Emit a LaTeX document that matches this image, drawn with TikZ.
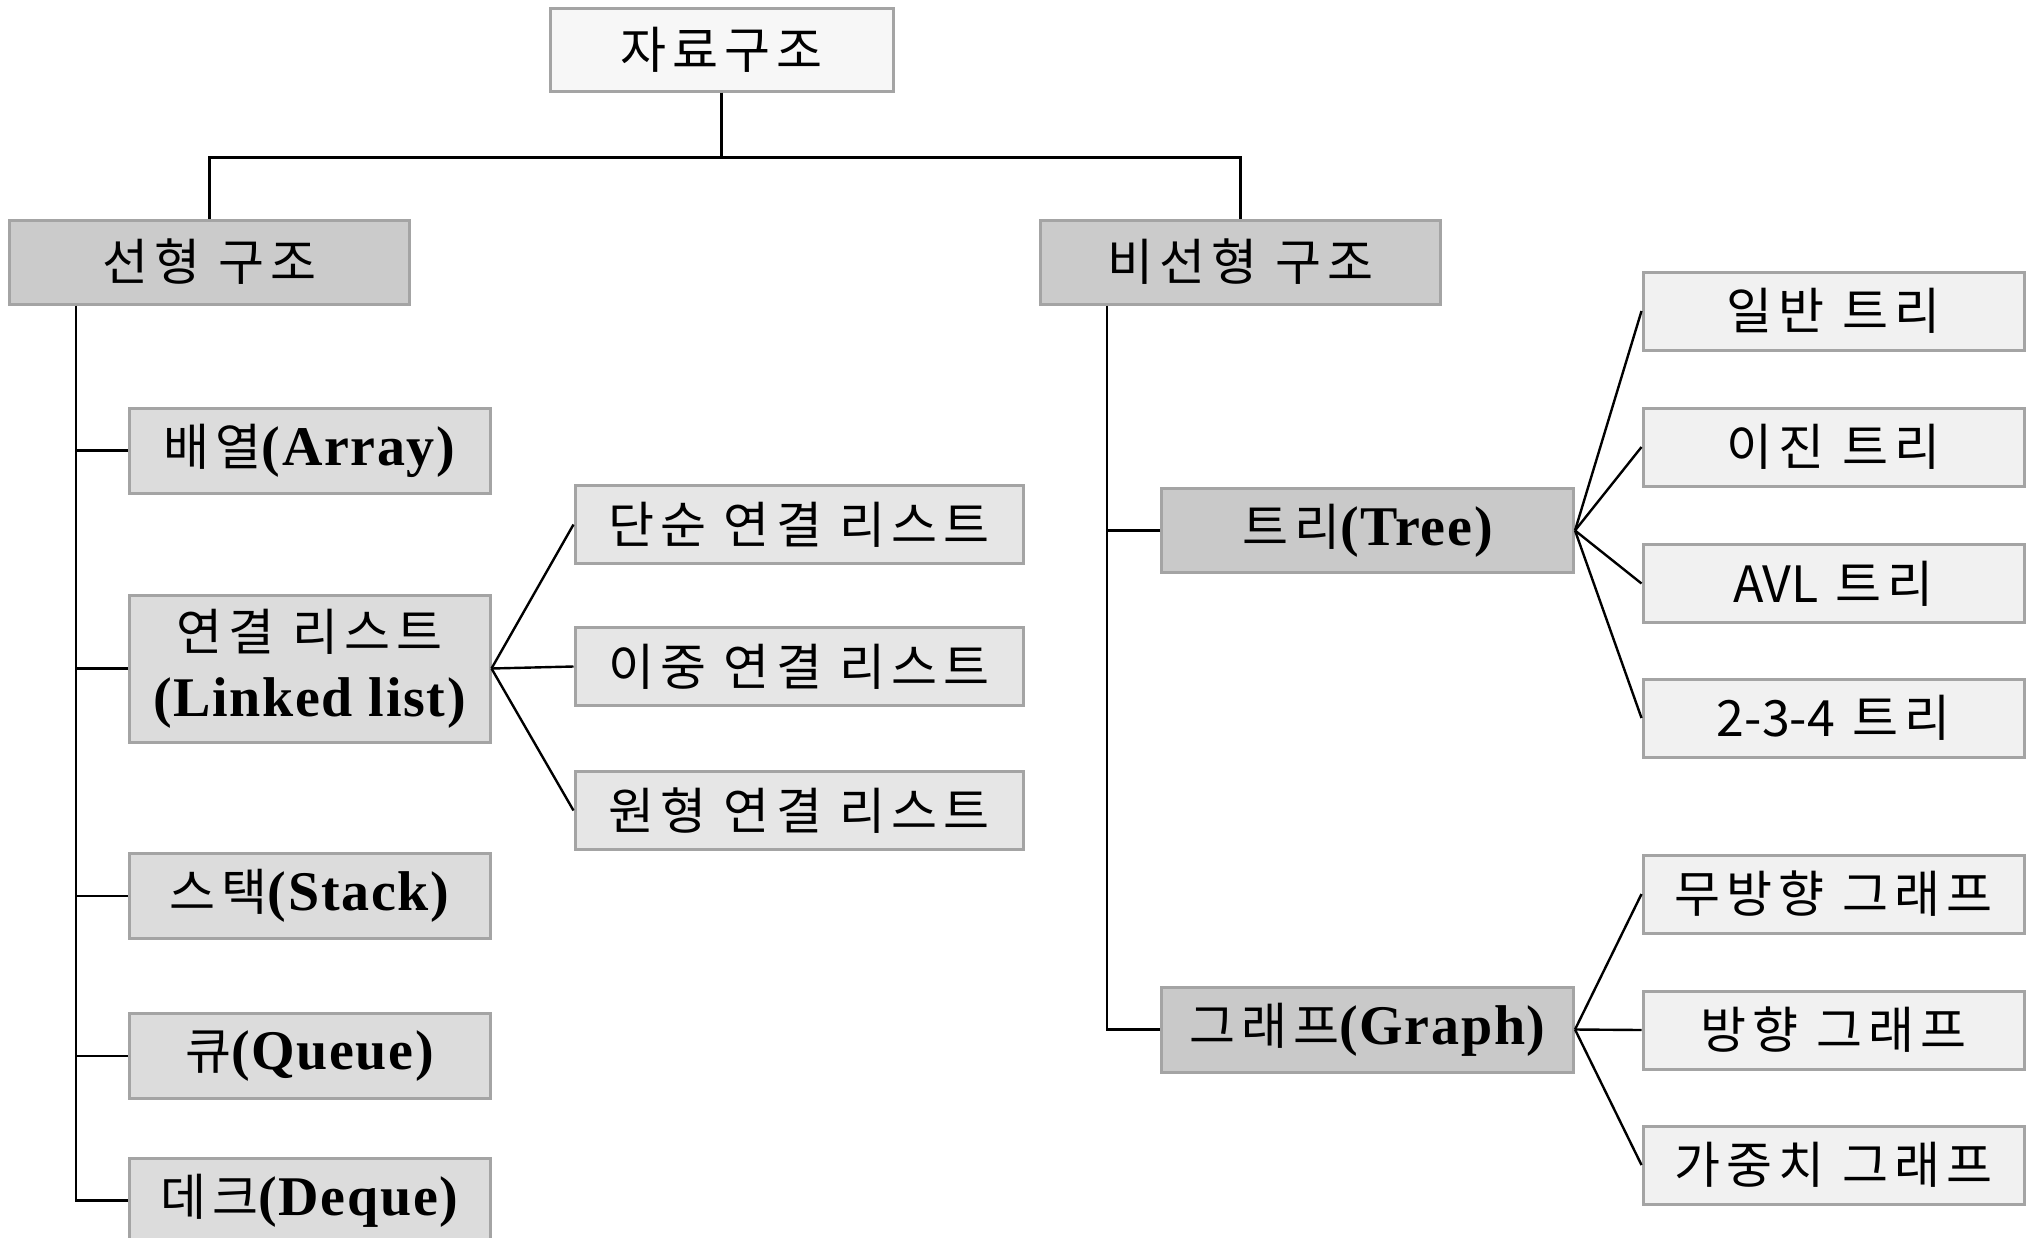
\documentclass[tikz,border=0pt]{standalone}
\usepackage{fontspec}
\setmainfont{Noto Sans CJK KR}[LetterSpace=12]
\newfontfamily\en{Liberation Serif}[LetterSpace=3]
\newfontfamily\lat{Noto Sans CJK KR}
\newcommand\E[1]{{\en\bfseries\fontsize{56}{64}\selectfont #1}}
\newcommand\La[1]{{\lat #1}}
\definecolor{bord}{HTML}{A4A4A4}
\definecolor{froot}{HTML}{F7F7F7}
\definecolor{fone}{HTML}{CBCBCB}
\definecolor{fleaf}{HTML}{DCDCDC}
\definecolor{fmid}{HTML}{C9C9C9}
\definecolor{fll}{HTML}{E6E6E6}
\definecolor{frs}{HTML}{F1F1F1}
\tikzset{
  box/.style={draw=bord, line width=3pt, rectangle, inner sep=0pt, align=center,
    font=\fontsize{50}{68}\selectfont},
  rootbox/.style={box, fill=froot, minimum width=343pt, minimum height=83pt},
  onebox/.style={box, fill=fone, minimum width=400pt, minimum height=84pt},
  leafbox/.style={box, fill=fleaf, minimum width=361pt, minimum height=85pt},
  midbox/.style={box, fill=fmid, minimum width=412pt, minimum height=84pt},
  llbox/.style={box, fill=fll, minimum width=448pt, minimum height=78pt},
  rsbox/.style={box, fill=frs, minimum width=381pt, minimum height=78pt},
  conn/.style={draw=black, line width=2.4pt}
}
\begin{document}
\begin{tikzpicture}[x=1pt, y=-1pt]
\useasboundingbox[fill=white] (0,0) rectangle (2028,1237);
% nodes
\node[rootbox] (root) at (721.5,49.5) {자료구조};
\node[onebox] (lin) at (209.5,262) {선형 구조};
\node[onebox] (nonlin) at (1240.5,262) {비선형 구조};
\node[leafbox] (arr) at (309.5,450.5) {배열\E{(Array)}};
\node[leafbox, minimum height=147pt] (ll) at (309.5,668.5) {연결 리스트\\[-2pt]\E{(Linked list)}};
\node[leafbox] (stack) at (309.5,896) {스택\E{(Stack)}};
\node[leafbox] (queue) at (309.5,1056) {큐\E{(Queue)}};
\node[leafbox] (deque) at (309.5,1200.5) {데크\E{(Deque)}};
\node[llbox] (single) at (799,524.5) {단순 연결 리스트};
\node[llbox] (double) at (799,666.5) {이중 연결 리스트};
\node[llbox] (circ) at (799,810.5) {원형 연결 리스트};
\node[midbox] (tree) at (1367.5,530.5) {트리\E{(Tree)}};
\node[midbox, minimum height=85pt] (graph) at (1367.5,1029.5) {그래프\E{(Graph)}};
\node[rsbox] (gen) at (1833.5,311) {일반 트리};
\node[rsbox] (bin) at (1833.5,447) {이진 트리};
\node[rsbox] (avl) at (1833.5,583.5) {\La{AVL} 트리};
\node[rsbox] (t234) at (1833.5,718) {\La{2-3-4} 트리};
\node[rsbox] (undir) at (1833.5,894) {무방향 그래프};
\node[rsbox] (dir) at (1833.5,1030) {방향 그래프};
\node[rsbox] (wgt) at (1833.5,1165) {가중치 그래프};
% top connectors
\path (root.south) ++(0,65) coordinate (bar);
\draw[conn] (root.south) -- (bar);
\draw[conn] (lin.north) |- (bar) -| (nonlin.north);
% left trunk
\coordinate (lt) at ([xshift=68pt]lin.south west);
\draw[conn] (lt) |- (deque.west);
\foreach \n in {arr,ll,stack,queue} \draw[conn] (\n.west) -- (\n.west -| lt);
\foreach \n in {single,double,circ} \draw[conn] (ll.east) -- (\n.west);
% right trunk
\coordinate (rt) at ([xshift=68pt]nonlin.south west);
\draw[conn] (rt) |- (graph.west);
\draw[conn] (tree.west) -- (tree.west -| rt);
\foreach \n in {gen,bin,avl,t234} \draw[conn] (tree.east) -- (\n.west);
\foreach \n in {undir,dir,wgt} \draw[conn] (graph.east) -- (\n.west);
\end{tikzpicture}
\end{document}
